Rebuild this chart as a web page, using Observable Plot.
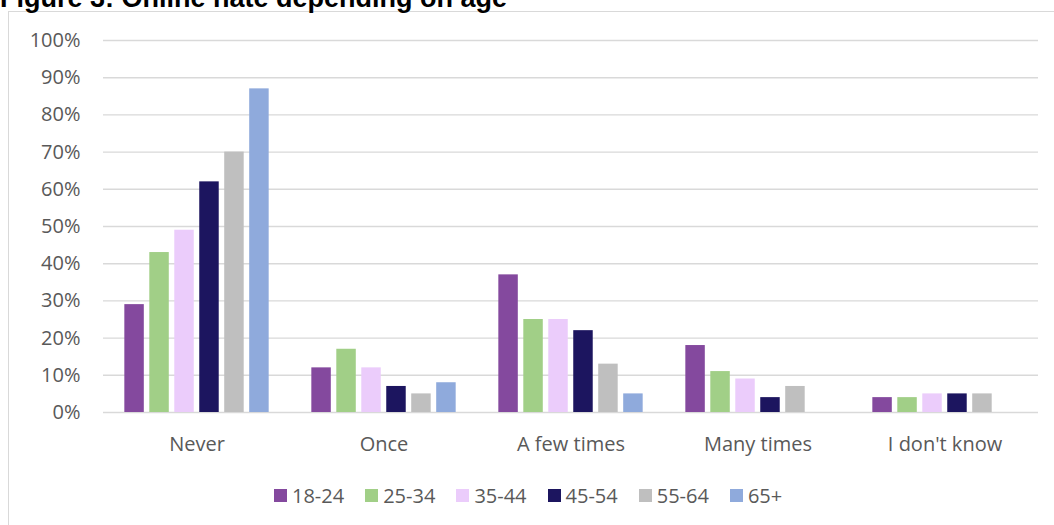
<!DOCTYPE html>
<html>
<head>
<meta charset="utf-8">
<script src="https://cdn.jsdelivr.net/npm/d3@7"></script>
<script src="https://cdn.jsdelivr.net/npm/@observablehq/plot@0.6"></script>
<style>
  html, body { margin: 0; padding: 0; background: #fff; width: 1054px; height: 525px; overflow: hidden; }
  #frame { position: absolute; left: 8px; top: 11px; width: 1100px; height: 600px; border: 1px solid #d9d9d9; box-sizing: border-box; }
  #title { position: absolute; left: 0px; top: -15px; font-family: "Liberation Sans", Arial, sans-serif; font-weight: bold; font-size: 27px; line-height: 27px; color: #000; white-space: nowrap; }
  #chart { position: absolute; left: 0; top: 0; }
  #legend { position: absolute; left: 274px; top: 482px; display: flex; align-items: center; font-family: "Open Sans", sans-serif; font-size: 20px; color: #595959; }
  .item { display: flex; align-items: center; margin-right: 21px; }
  .sw { width: 13px; height: 13px; margin-right: 5px; }
</style>
</head>
<body>
<div id="frame"></div>
<div id="title">Figure 3: Online hate depending on age</div>
<div id="chart"></div>
<div id="legend"></div>
<script>
const categories = ["Never", "Once", "A few times", "Many times", "I don't know"];
const ages = ["18-24", "25-34", "35-44", "45-54", "55-64", "65+"];
const values18_24 = [29, 12, 37, 18, 4];
const values25_34 = [43, 17, 25, 11, 4];
const values35_44 = [49, 12, 25, 9, 5];
const values45_54 = [62, 7, 22, 4, 5];
const values55_64 = [70, 5, 13, 7, 5];
const values65plus = [87, 8, 5, null, null];
const colors = ["#84499E", "#A1CF87", "#EBCCFB", "#1C155F", "#BFBFBF", "#8FAADC"];
const yTicks = [0, 10, 20, 30, 40, 50, 60, 70, 80, 90, 100];

const series = [values18_24, values25_34, values35_44, values45_54, values55_64, values65plus];
const rows = [];
ages.forEach((age, i) => {
  categories.forEach((cat, j) => {
    const v = series[i][j];
    if (v != null) rows.push({category: cat, age, value: v});
  });
});

const chart = Plot.plot({
  width: 1054,
  height: 460,
  marginLeft: 102,
  marginRight: 16,
  marginTop: 40,
  marginBottom: 48,
  style: {fontFamily: "'Open Sans', sans-serif", fontSize: "20px", color: "#595959", background: "transparent"},
  facet: {data: rows, x: "category"},
  fx: {domain: categories, padding: 0, axis: "bottom", tickSize: 0, tickPadding: 24, label: null},
  x: {domain: ages, paddingInner: 0.22, paddingOuter: 0.854, axis: null, round: false},
  y: {domain: [0, 100], ticks: yTicks, tickSize: 0, tickPadding: 23, tickFormat: d => d + "%", label: null},
  color: {domain: ages, range: colors},
  marks: [
    Plot.ruleY(yTicks, {stroke: "#d9d9d9", strokeWidth: 1.4, strokeOpacity: 1}),
    Plot.barY(rows, {x: "age", y: "value", fill: "age", inset: 0})
  ]
});
document.getElementById("chart").appendChild(chart);

const legend = document.getElementById("legend");
ages.forEach((age, i) => {
  const item = document.createElement("div");
  item.className = "item";
  const sw = document.createElement("div");
  sw.className = "sw";
  sw.style.background = colors[i];
  const label = document.createElement("span");
  label.textContent = age;
  item.appendChild(sw);
  item.appendChild(label);
  legend.appendChild(item);
});
</script>
</body>
</html>
